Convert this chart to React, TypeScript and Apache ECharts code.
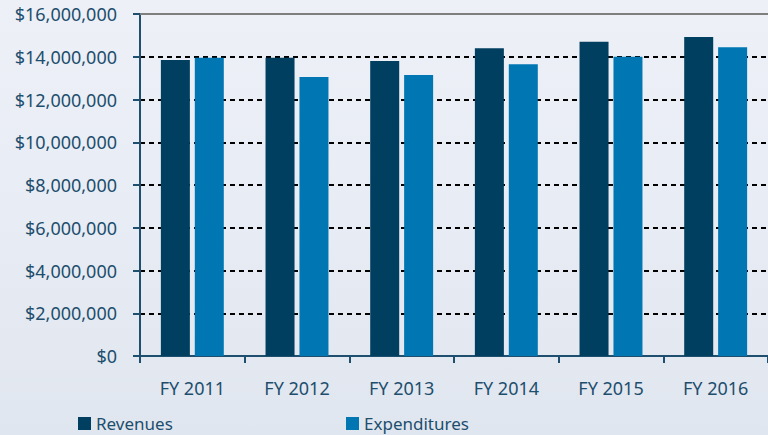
import React, { useEffect, useRef } from "react";
import * as echarts from "echarts";

const categories = ["FY 2011", "FY 2012", "FY 2013", "FY 2014", "FY 2015", "FY 2016"];
const revenues = [13850000, 13950000, 13800000, 14400000, 14700000, 14920000];
const expenditures = [13950000, 13050000, 13150000, 13650000, 14000000, 14450000];
const yTicks = { min: 0, max: 16000000, interval: 2000000 };

const TEXT = "#1d4e6d";
const AXIS = "#1f4f6f";
const FONT = "Noto Sans";

const legendBase = {
  top: 415,
  padding: 0,
  itemWidth: 13,
  itemHeight: 13,
  icon: "rect",
  textStyle: { color: TEXT, fontFamily: FONT, fontSize: 17, lineHeight: 15 },
};

export default function App() {
  const ref = useRef<HTMLDivElement>(null);
  useEffect(() => {
    document.body.style.margin = "0";
    const chart = echarts.init(ref.current!, null, { renderer: "svg" });
    chart.setOption({
      animation: false,
      grid: { left: 140, top: 14, width: 630, height: 342 },
      legend: [
        { ...legendBase, left: 78, data: ["Revenues"] },
        { ...legendBase, left: 346, data: ["Expenditures"] },
      ],
      xAxis: [
        {
          type: "category",
          data: categories,
          axisLine: { lineStyle: { color: AXIS, width: 2 } },
          axisTick: { show: true, length: 7, lineStyle: { color: AXIS, width: 2 } },
          axisLabel: { color: TEXT, fontFamily: FONT, fontSize: 18, margin: 23 },
        },
        {
          type: "category",
          position: "top",
          data: categories,
          axisLine: { lineStyle: { color: "#7f7f7f", width: 2 } },
          axisTick: { show: false },
          axisLabel: { show: false },
        },
      ],
      yAxis: {
        type: "value",
        min: yTicks.min,
        max: yTicks.max,
        interval: yTicks.interval,
        axisLine: { show: true, lineStyle: { color: AXIS, width: 2 } },
        axisTick: { show: true, length: 7, lineStyle: { color: AXIS, width: 2 } },
        axisLabel: {
          color: TEXT,
          fontFamily: FONT,
          fontSize: 18,
          margin: 23,
          formatter: (v: number) => "$" + v.toLocaleString("en-US"),
        },
        splitLine: { lineStyle: { color: "#000", width: 2, type: [5, 4] } },
      },
      series: [
        {
          name: "Revenues",
          type: "bar",
          data: revenues,
          barWidth: 29,
          barGap: "17%",
          itemStyle: { color: "#003f5f" },
        },
        {
          name: "Expenditures",
          type: "bar",
          data: expenditures,
          barWidth: 29,
          itemStyle: { color: "#0077b3" },
        },
      ],
    });
    return () => chart.dispose();
  }, []);
  return (
    <div
      ref={ref}
      style={{
        width: 768,
        height: 435,
        background: "linear-gradient(180deg, #edf0f7 0%, #e8ecf4 50%, #e0e6ef 100%)",
      }}
    />
  );
}
